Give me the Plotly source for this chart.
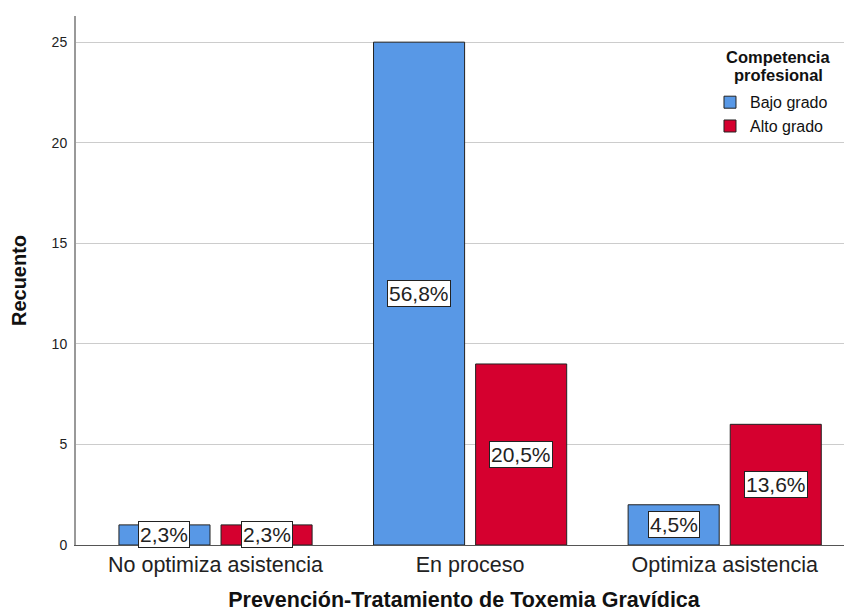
import plotly.graph_objects as go

categories = ["No optimiza asistencia", "En proceso", "Optimiza asistencia"]
bajo_counts = [1, 25, 2]
alto_counts = [1, 9, 6]
bajo_pct = ["2,3%", "56,8%", "4,5%"]
alto_pct = ["2,3%", "20,5%", "13,6%"]
series_names = ["Bajo grado", "Alto grado"]
legend_title_lines = ["Competencia", "profesional"]
colors = ["#5898E6", "#D5002F"]

FONT = "Liberation Sans, Arial, sans-serif"
BARGAP = 0.198
BARGROUPGAP = 0.108

fig = go.Figure()
for name, vals, col in zip(series_names, [bajo_counts, alto_counts], colors):
    fig.add_trace(go.Bar(
        x=categories, y=vals, name=name,
        marker=dict(color=col, line=dict(color="#222222", width=1)),
        offsetgroup=name,
    ))

# percentage labels centered in each bar
annotations = []
n = len(categories)
slot = (1 - BARGAP) / 2
for si, (vals, pcts) in enumerate([(bajo_counts, bajo_pct), (alto_counts, alto_pct)]):
    for ci in range(n):
        xoff = (si - 0.5) * slot
        annotations.append(dict(
            x=ci + xoff, y=vals[ci] / 2, xref="x", yref="y",
            text=pcts[ci], showarrow=False,
            font=dict(family=FONT, size=21, color="#222222"),
            bgcolor="white", bordercolor="#222222", borderwidth=1, borderpad=1,
        ))

# legend title as centered annotations (tight line spacing)
for line, yy in zip(legend_title_lines, [0.9225, 0.888]):
    annotations.append(dict(
        x=0.905, y=yy, xref="paper", yref="paper", xanchor="center", yanchor="middle",
        text="<b>" + line + "</b>", showarrow=False,
        font=dict(family=FONT, size=16.5, color="#111111"),
    ))

fig.update_layout(
    width=844, height=604,
    margin=dict(l=68, r=0, t=8, b=67),
    paper_bgcolor="white", plot_bgcolor="white",
    barmode="group", bargap=BARGAP, bargroupgap=BARGROUPGAP,
    font=dict(family=FONT, color="#222222"),
    annotations=annotations,
    showlegend=True,
    legend=dict(
        x=0.817, y=0.869, xanchor="left", yanchor="top",
        font=dict(family=FONT, size=16, color="#111111"),
        bgcolor="rgba(255,255,255,0)",
        tracegroupgap=0,
    ),
)
fig.update_xaxes(
    type="category", range=[-0.548, 2.5], automargin=False,
    showline=True, linecolor="#555555", linewidth=1,
    showgrid=False, ticks="",
    tickfont=dict(size=21.5, color="#222222"),
    title=dict(text="<b>Prevención-Tratamiento de Toxemia Gravídica</b>",
               font=dict(size=21.5, color="#111111"), standoff=20),
)
fig.update_yaxes(
    range=[0, 26.3], dtick=5, automargin=False,
    showline=True, linecolor="#999999", linewidth=2,
    showgrid=True, gridcolor="#CCCCCC", gridwidth=1,
    zeroline=False, ticks="",
    tickfont=dict(size=14, color="#222222"), ticklabelstandoff=4,
    title=dict(text="<b>Recuento</b>", font=dict(size=20, color="#111111"), standoff=20),
)

fig.write_html("out.html")
